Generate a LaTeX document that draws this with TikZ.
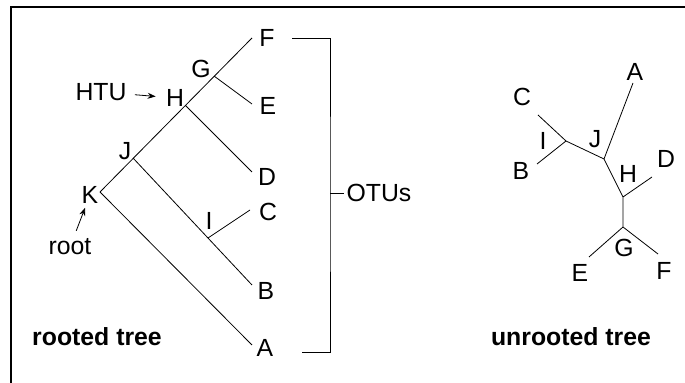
\documentclass[tikz,border=0pt]{standalone}
\usepackage{fontspec}
\setmainfont{Liberation Sans}
\usetikzlibrary{arrows.meta}
\begin{document}
\begin{tikzpicture}[x=0.5pt, y=-0.5pt, >={Stealth[length=4pt,width=3pt]},
    font=\fontsize{12.4}{14}\selectfont,
    branch/.style={line width=0.4pt},
    lbl/.style={inner sep=1pt}]
    \useasboundingbox (0,0) rectangle (685,383);
    \draw[line width=0.6pt] (685,7) -- (11,7) -- (11,383);
    % rooted tree, branch points and leaf ends
    \coordinate (rK) at (100,192);
    \coordinate (rJ) at (133,158);
    \coordinate (rH) at (186,106);
    \coordinate (rG) at (214,76);
    \coordinate (rI) at (208,238);
    \coordinate (rF) at (252,38);
    \coordinate (rE) at (252,104);
    \coordinate (rD) at (252,172);
    \coordinate (rC) at (250,210);
    \coordinate (rB) at (252,285);
    \coordinate (rA) at (252,345);
    \draw[branch] (rK) -- (rF) (rK) -- (rA) (rJ) -- (rB) (rH) -- (rD) (rG) -- (rE) (rI) -- (rC);
    \node[lbl] (lF) at (267,38) {F};
    \node[lbl] (lE) at (268,106) {E};
    \node[lbl] (lD) at (267,177) {D};
    \node[lbl] (lC) at (268,212) {C};
    \node[lbl] (lB) at (266,291) {B};
    \node[lbl] (lA) at (265,348) {A};
    \node[lbl] (lG) at (201,69) {G};
    \node[lbl] (lH) at (175,98) {H};
    \node[lbl] (lJ) at (125,151) {J};
    \node[lbl] (lK) at (90,195) {K};
    \node[lbl] (lI) at (209,221) {I};
    \node[lbl] (htu) at (101,92) {HTU};
    \node[lbl] (root) at (70,247) {root};
    \draw[->, branch, shorten <=3pt, shorten >=4pt] (htu) -- (lH);
    \draw[->, branch, shorten <=3pt, shorten >=1pt] (root) -- (lK);
    % bracket over the leaves
    \coordinate (bT) at (292,38);
    \coordinate (bB) at (302,352);
    \coordinate (bR) at (330,193);
    \node[lbl] (otus) at (379,193) {OTUs};
    \draw[branch] (bT) -| (bR) |- (bB);
    \draw[branch] (bR) -- (otus.west);
    \node[lbl, font=\fontsize{12.4}{14}\selectfont\bfseries] (rtitle) at (97,337) {rooted tree};
    % unrooted tree
    \coordinate (uI) at (566,141);
    \coordinate (uJ) at (604,159);
    \coordinate (uH) at (623,197);
    \coordinate (uG) at (623,227);
    \coordinate (uC) at (538,115);
    \coordinate (uB) at (537,164);
    \coordinate (uA) at (633,83);
    \coordinate (uD) at (652,177);
    \coordinate (uE) at (589,257);
    \coordinate (uF) at (658,254);
    \draw[branch] (uC) -- (uI) -- (uB) (uI) -- (uJ) -- (uA) (uJ) -- (uH) -- (uD)
        (uH) -- (uG) -- (uE) (uG) -- (uF);
    \node[lbl] (mC) at (522,97) {C};
    \node[lbl] (mI) at (543,141) {I};
    \node[lbl] (mB) at (521,171) {B};
    \node[lbl] (mJ) at (595,139) {J};
    \node[lbl] (mA) at (635,72) {A};
    \node[lbl] (mD) at (666,159) {D};
    \node[lbl] (mH) at (628,174) {H};
    \node[lbl] (mG) at (624,248) {G};
    \node[lbl] (mE) at (580,273) {E};
    \node[lbl] (mF) at (664,271) {F};
    \node[lbl, font=\fontsize{12.4}{14}\selectfont\bfseries] (utitle) at (571,337) {unrooted tree};
\end{tikzpicture}
\end{document}
